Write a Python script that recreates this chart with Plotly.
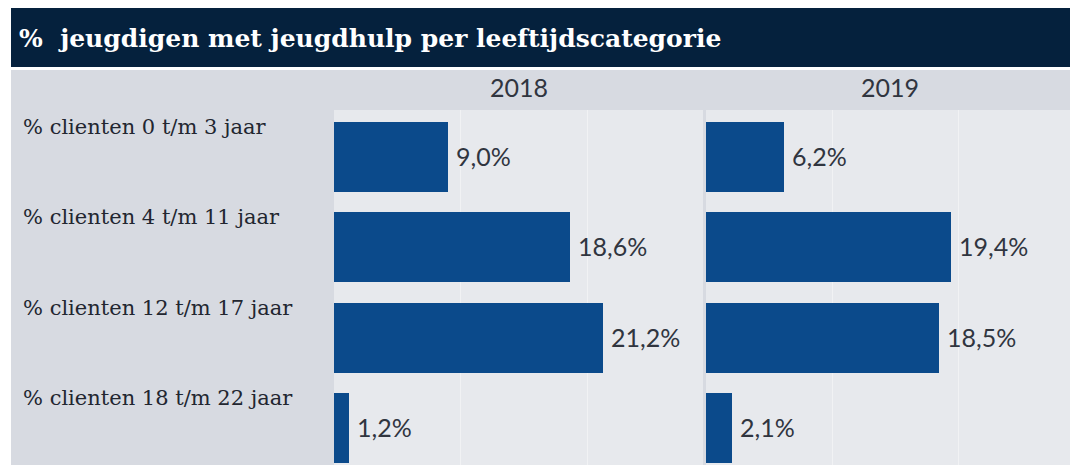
import plotly.graph_objects as go

title = "%  jeugdigen met jeugdhulp per leeftijdscategorie"
categories = ["% clienten 0 t/m 3 jaar", "% clienten 4 t/m 11 jaar",
              "% clienten 12 t/m 17 jaar", "% clienten 18 t/m 22 jaar"]
years = ["2018", "2019"]
values_2018 = [9.0, 18.6, 21.2, 1.2]
values_2019 = [6.2, 19.4, 18.5, 2.1]

# page has an 8px body margin; figure sized to fill the rest of the window
OFF = 8
W, H = 1078 - OFF, 465 - OFF
BAR = "#0b4a8b"
TITLE_BG = "#05213d"
GRAY = "#d7dae1"
PANEL = "#e7e9ed"
GRID = "#f1f2f4"

def px(x):
    return (x - OFF) / W

def py(y):
    return 1 - (y - OFF) / H

def fmt(v):
    return f"{v:.1f}".replace(".", ",") + "%"

fig = go.Figure()
series = [values_2018, values_2019]
for i, vals in enumerate(series):
    xa = "x" if i == 0 else "x2"
    ya = "y" if i == 0 else "y2"
    fig.add_trace(go.Bar(
        y=categories, x=vals, orientation="h", width=0.775,
        marker=dict(color=BAR, line=dict(width=0)),
        xaxis=xa, yaxis=ya, showlegend=False, hoverinfo="skip",
    ))

annotations = []
for i, vals in enumerate(series):
    xr = "x" if i == 0 else "x2"
    yr = "y" if i == 0 else "y2"
    for c, v in zip(categories, vals):
        annotations.append(dict(
            x=v, y=c, xref=xr, yref=yr, text=fmt(v), showarrow=False,
            xanchor="left", yanchor="middle", xshift=6, yshift=1,
            font=dict(family="Lato", size=25, color="#30353f"),
        ))
    annotations.append(dict(
        x=0.5, y=py(87), xref=("x domain" if i == 0 else "x2 domain"), yref="paper",
        text=years[i], showarrow=False, xanchor="center", yanchor="middle",
        font=dict(family="Lato", size=25, color="#30353f"),
    ))

for c in categories:
    annotations.append(dict(
        x=px(21), y=c, xref="paper", yref="y", text=c, showarrow=False,
        xanchor="left", yanchor="middle", yshift=30,
        font=dict(family="DejaVu Serif", size=21, color="#222630"),
    ))

annotations.append(dict(
    x=px(17), y=py(38), xref="paper", yref="paper", text="<b>" + title + "</b>",
    showarrow=False, xanchor="left", yanchor="middle",
    font=dict(family="DejaVu Serif", size=25, color="white"),
))

shapes = [
    dict(type="rect", xref="paper", yref="paper", x0=px(11), x1=px(1074),
         y0=py(67), y1=py(6), fillcolor=TITLE_BG, line=dict(width=0), layer="below"),
    dict(type="rect", xref="paper", yref="paper", x0=px(11), x1=px(1074),
         y0=py(470), y1=py(70), fillcolor=GRAY, line=dict(width=0), layer="below"),
    dict(type="rect", xref="paper", yref="paper", x0=px(334), x1=px(703),
         y0=py(470), y1=py(110), fillcolor=PANEL, line=dict(width=0), layer="below"),
    dict(type="rect", xref="paper", yref="paper", x0=px(706), x1=px(1073),
         y0=py(470), y1=py(110), fillcolor=PANEL, line=dict(width=0), layer="below"),
]

yrange = [3.41, -0.52]
xaxis_common = dict(range=[0, 29.1], showticklabels=False, ticks="", showgrid=True,
                    gridcolor=GRID, gridwidth=1, tick0=0, dtick=10, zeroline=False,
                    showline=False, fixedrange=True)
yaxis_common = dict(type="category", categoryorder="array", categoryarray=categories,
                    range=yrange, showticklabels=False, ticks="", showgrid=False,
                    zeroline=False, showline=False, domain=[0, py(110)])

fig.update_layout(
    width=W, height=H,
    margin=dict(l=0, r=0, t=0, b=0),
    paper_bgcolor="white", plot_bgcolor="rgba(0,0,0,0)",
    xaxis=dict(domain=[px(334), px(703)], anchor="y", **xaxis_common),
    xaxis2=dict(domain=[px(706), px(1073)], anchor="y2", **xaxis_common),
    yaxis=dict(anchor="x", **yaxis_common),
    yaxis2=dict(anchor="x2", **yaxis_common),
    shapes=shapes, annotations=annotations, bargap=0,
)

fig.write_html("out.html")
